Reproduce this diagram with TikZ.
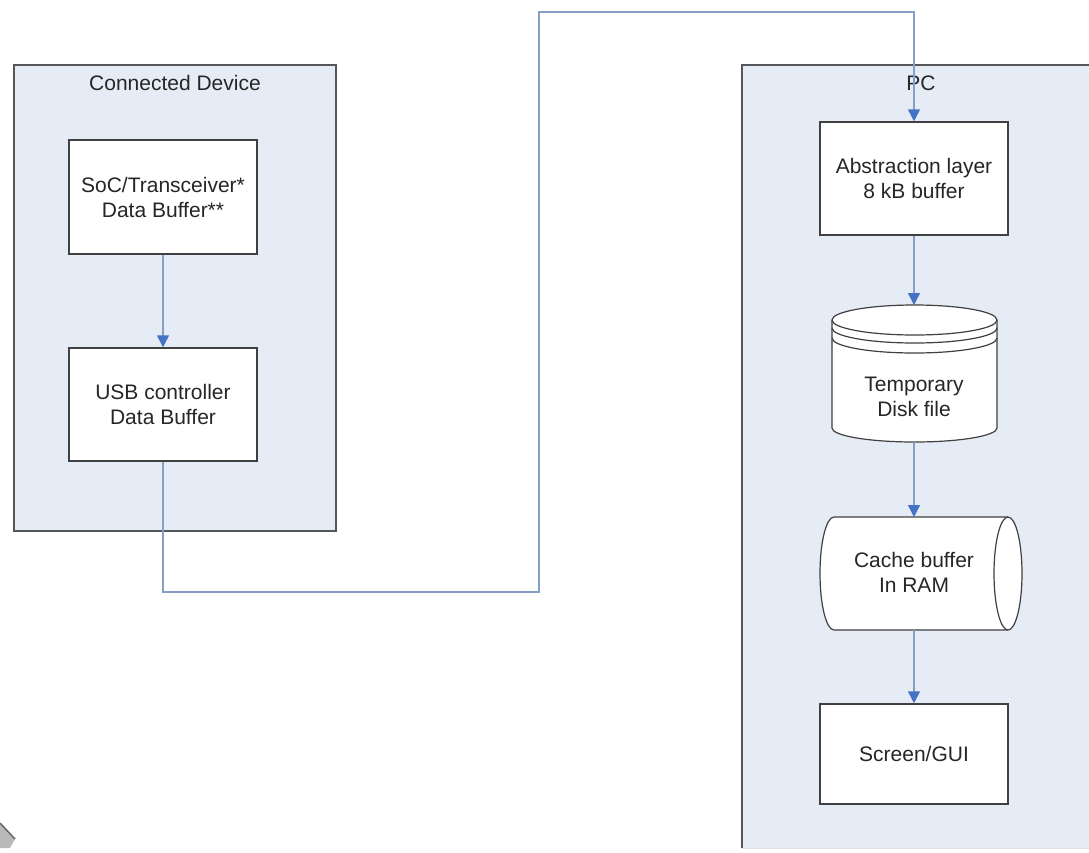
\documentclass[tikz,border=0pt]{standalone}
\usepackage{fontspec}
\setmainfont{Liberation Sans}
\usepackage{tikz}
\usetikzlibrary{arrows.meta}
\definecolor{panelfill}{RGB}{230,236,246}
\definecolor{panelline}{RGB}{85,85,90}
\definecolor{wireline}{RGB}{135,158,196}
\definecolor{tipblue}{RGB}{68,114,196}

\begin{document}
\begin{tikzpicture}[
                x=1pt, y=-1pt,
                every node/.style={font=\fontsize{21}{25}\selectfont, align=center, text=black!85}, % text in all nodes
                panel/.style={draw=panelline, fill=panelfill, line width=1.5pt}, % the two large frames
                block/.style={rectangle, draw=black!75, fill=white, line width=1.5pt, minimum width=188pt}, % white boxes
                storage/.style={draw=black!75, fill=white, line width=1.2pt}, % disk and RAM shapes
                wire/.style={draw=wireline, line width=1.5pt, -{Triangle[width=12pt,length=12pt,color=tipblue]}} % connectors
                ]
                \useasboundingbox (0,0) rectangle (1089,852);
                % Connected Device
                \draw[panel] (14,65) rectangle (336,531);
                \node (devtitle) at (175,83) {Connected Device};
                \node[block, minimum height=114pt] (soc) at (163,197) {SoC/Transceiver*\\Data Buffer**};
                \node[block, minimum height=113pt] (usb) at (163,404.5) {USB controller\\Data Buffer};
                % PC
                \fill[panelfill] (742,65) rectangle (1089,848);
                \draw[panelline, line width=1.5pt] (1089,65) -- (742,65) -- (742,848);
                \draw[black!12] (742,848) -- (1089,848);
                \node (pctitle) at (921,83) {PC};
                \node[block, minimum height=113pt] (abstr) at (914,178.5) {Abstraction layer\\8 kB buffer};
                \filldraw[storage] (832,320) -- (832,428) arc[start angle=180, end angle=0, x radius=82.5, y radius=14]
                   -- (997,320) arc[start angle=0, end angle=-180, x radius=82.5, y radius=15] -- cycle;
                \foreach \dy in {0,8,18}
                   \draw[storage, fill=none] (832,{320+\dy}) arc[start angle=180, end angle=0, x radius=82.5, y radius=15];
                \node (disk) at (914,397) {Temporary\\Disk file};
                \coordinate (disktop) at (914,305);
                \coordinate (diskbot) at (914,442);
                \filldraw[storage] (834,517) -- (1008,517) arc[start angle=-90, end angle=90, x radius=14, y radius=56.5]
                   -- (834,630) arc[start angle=90, end angle=270, x radius=14, y radius=56.5] -- cycle;
                \draw[storage, fill=none] (1008,517) arc[start angle=270, end angle=90, x radius=14, y radius=56.5];
                \node (cache) at (914,572) {Cache buffer\\In RAM};
                \coordinate (cachetop) at (914,517);
                \coordinate (cachebot) at (914,630);
                \node[block, minimum height=100pt] (gui) at (914,754) {Screen/GUI};
                % connectors
                \coordinate (low) at (539,592);
                \coordinate (high) at (914,12);
                \draw[wire] (soc.south) -- (usb.north);
                \draw[wire] (usb.south) |- (low) |- (high) -- (abstr.north);
                \draw[wire] (abstr.south) -- (disktop);
                \draw[wire] (diskbot) -- (cachetop);
                \draw[wire] (cachebot) -- (gui.north);
                % corner mark
                \fill[gray!55] (0,823) -- (15,839) -- (10,848) -- (0,848) -- cycle;
                \draw[gray!80!black, line width=1.5pt] (0,823) -- (15,839);
            \end{tikzpicture}
\end{document}
